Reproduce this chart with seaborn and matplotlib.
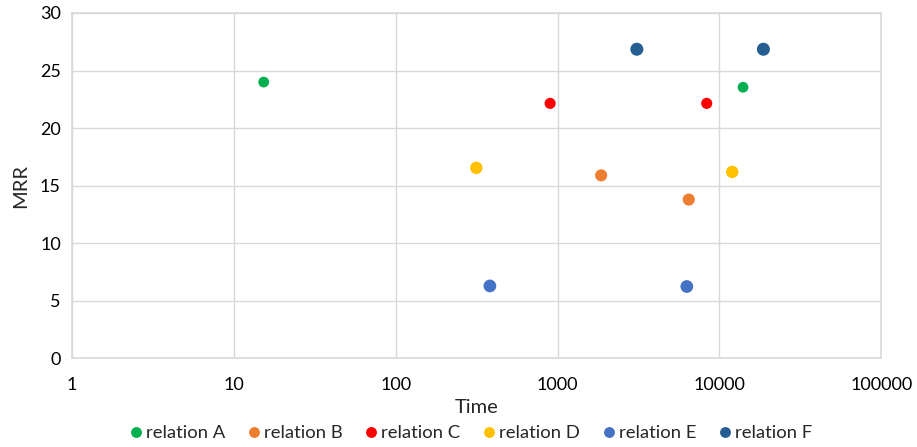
import matplotlib
matplotlib.use('Agg')
import matplotlib.pyplot as plt
from matplotlib.lines import Line2D
from matplotlib.ticker import FixedLocator, FixedFormatter
import seaborn as sns
import pandas as pd

# データ
relations = ['relation A', 'relation B', 'relation C', 'relation D', 'relation E', 'relation F']
time_a = [15.3, 14000]
mrr_a = [24.0, 23.55]
time_b = [1860, 6470]
mrr_b = [15.9, 13.8]
time_c = [900, 8350]
mrr_c = [22.15, 22.15]
time_d = [315, 12000]
mrr_d = [16.55, 16.2]
time_e = [382, 6290]
mrr_e = [6.3, 6.25]
time_f = [3090, 18700]
mrr_f = [26.85, 26.85]
colors = ['#00B050', '#ED7D31', '#FF0000', '#FFC000', '#4472C4', '#255E91']
x_ticks = [1, 10, 100, 1000, 10000, 100000]
y_ticks = [0, 5, 10, 15, 20, 25, 30]

def main():
    times = [time_a, time_b, time_c, time_d, time_e, time_f]
    mrrs = [mrr_a, mrr_b, mrr_c, mrr_d, mrr_e, mrr_f]
    rows = []
    for name, ts, ms in zip(relations, times, mrrs):
        for t, m in zip(ts, ms):
            rows.append({'relation': name, 'Time': t, 'MRR': m})
    df = pd.DataFrame(rows)

    sns.set_style('white')
    plt.rcParams['font.family'] = ['Lato', 'DejaVu Sans']

    fig = plt.figure(figsize=(9.17, 4.47), dpi=100)
    ax = fig.add_axes([0.0785, 0.198, 0.8825, 0.773])

    sizes = {'relation A': 60, 'relation B': 76, 'relation C': 64,
             'relation D': 80, 'relation E': 84, 'relation F': 88}
    sns.scatterplot(data=df, x='Time', y='MRR', hue='relation', hue_order=relations,
                    palette=colors, size='relation', sizes=sizes, size_order=relations,
                    linewidth=0, legend=False, ax=ax, zorder=3)

    ax.set_xscale('log')
    ax.set_xlim(1, 100000)
    ax.set_ylim(0, 30)
    ax.xaxis.set_major_locator(FixedLocator(x_ticks))
    ax.xaxis.set_major_formatter(FixedFormatter([str(v) for v in x_ticks]))
    ax.xaxis.set_minor_locator(FixedLocator([]))
    ax.set_yticks(y_ticks)
    ax.grid(True, color='#D9D9D9', linewidth=1)
    for s in ax.spines.values():
        s.set_color('#D9D9D9')
        s.set_linewidth(1.2)
    ax.tick_params(axis='both', length=0, labelsize=13, colors='#000000')
    ax.tick_params(axis='x', pad=13)
    ax.tick_params(axis='y', pad=8)
    ax.set_xlabel('Time', fontsize=14.5, labelpad=5)
    ax.set_ylabel('MRR', fontsize=14.5, labelpad=8)

    handles = [Line2D([], [], marker='o', linestyle='', color=c, markersize=6.8)
               for c in colors]
    fig.legend(handles, relations, loc='center', bbox_to_anchor=(0.512, 0.031), ncol=6,
               frameon=False, fontsize=13.3, handletextpad=0.05, columnspacing=1.05,
               handlelength=1.0)

    fig.savefig('out.png', dpi=100)

if __name__ == '__main__':
    main()
